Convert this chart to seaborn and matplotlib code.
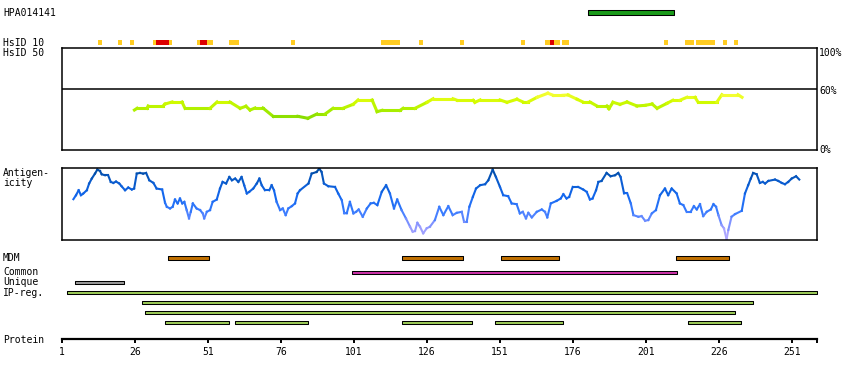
import numpy as np
import matplotlib.pyplot as plt
import seaborn as sns
from matplotlib.collections import LineCollection

sns.set_theme(style='white')
plt.rcParams['font.family'] = ['DejaVu Sans Mono']

# ---- data (residue positions / values) ----
ruler_end = 259.5
tick_pos = [1, 26, 51, 76, 101, 126, 151, 176, 201, 226, 251]

antibody_name = 'HPA014141'
antigen_span = [(181, 210.5)]

hsid10_yellow = [(13.2, 14.6), (20.3, 21.6), (24.3, 25.7), (32.2, 38.6), (47.3, 52.6),
                 (58.2, 61.6), (79.4, 80.8), (110.2, 116.8), (123.3, 124.6), (137.3, 138.7),
                 (158.2, 159.6), (166.4, 171.5), (172.2, 174.6), (207.2, 208.5), (214.4, 217.4),
                 (218.1, 224.6), (227.4, 228.7), (231.1, 232.5)]
hsid10_red = [(33.2, 37.5), (48.3, 50.7), (168.1, 169.5)]

hs_pos = [25.8, 26.7, 30.1, 30.5, 35.6, 36.3, 38.7, 42.1, 43.1, 51.7,
          54.1, 58.5, 62.0, 64.0, 65.4, 67.1, 69.8, 73.3, 81.8, 85.2,
          88.3, 91.1, 93.8, 97.2, 100.7, 102.4, 107.2, 108.9, 110.6, 116.8,
          117.8, 121.9, 126.0, 128.1, 134.9, 136.3, 141.8, 142.4, 144.2, 151.0,
          153.4, 156.8, 158.9, 160.6, 163.7, 167.4, 169.2, 172.6, 174.3, 177.4,
          179.4, 181.8, 184.2, 187.6, 188.3, 189.7, 192.1, 194.5, 197.9, 200.7,
          203.1, 204.8, 208.2, 210.2, 212.6, 215.0, 217.8, 218.8, 225.3, 227.0,
          232.5, 233.9]
hs_val = [39.3, 41.0, 41.0, 43.3, 43.3, 45.2, 47.2, 47.2, 41.0, 41.0,
          47.2, 47.2, 41.0, 43.0, 39.3, 41.3, 41.3, 33.1, 33.1, 31.2,
          35.4, 35.4, 41.0, 41.0, 44.9, 49.2, 49.2, 37.7, 39.0, 39.0,
          41.0, 41.0, 46.9, 50.4, 50.4, 48.9, 48.9, 46.9, 49.2, 49.2,
          46.9, 49.9, 47.2, 47.2, 51.8, 55.8, 53.8, 53.8, 54.1, 49.9,
          47.2, 47.2, 43.3, 43.3, 40.6, 46.9, 44.9, 47.2, 43.3, 43.9,
          45.2, 41.0, 45.9, 48.9, 48.9, 51.8, 51.8, 47.2, 47.2, 54.4,
          54.4, 51.8]

ag_pos = [4.9, 5.8, 6.7, 7.5, 8.3, 9.5, 10.3, 11.2, 12.3, 13.1,
          14.0, 14.6, 15.7, 16.8, 17.7, 18.6, 19.5, 20.6, 21.4, 22.6,
          23.7, 24.9, 25.7, 26.6, 27.7, 28.8, 29.8, 30.9, 32.3, 33.4,
          35.3, 36.3, 36.9, 38.0, 38.9, 39.7, 40.6, 41.4, 42.2, 42.9,
          43.7, 44.5, 45.1, 45.8, 47.1, 48.3, 49.2, 49.7, 50.6, 51.7,
          52.6, 54.0, 55.1, 56.0, 57.2, 58.3, 59.2, 60.3, 61.4, 62.5,
          63.4, 64.3, 65.1, 66.5, 67.7, 68.6, 69.4, 70.5, 72.0, 72.8,
          73.6, 74.5, 75.7, 76.6, 77.6, 78.5, 79.7, 80.8, 81.7, 82.5,
          85.4, 86.5, 88.2, 89.1, 89.9, 90.7, 92.2, 94.5, 95.6, 96.8,
          97.7, 98.5, 99.6, 100.8, 101.7, 102.6, 104.0, 105.4, 106.7, 107.8,
          109.0, 110.5, 112.0, 113.3, 114.7, 115.8, 117.3, 118.8, 120.2, 121.1,
          121.9, 122.7, 123.6, 124.7, 125.9, 127.0, 128.7, 130.2, 131.6, 133.3,
          134.8, 136.2, 137.9, 138.7, 139.6, 140.5, 141.7, 142.8, 144.2, 145.9,
          147.0, 148.5, 149.6, 151.0, 152.1, 153.8, 155.0, 156.7, 157.8, 158.8,
          159.9, 160.7, 161.9, 163.6, 165.3, 166.4, 167.2, 168.4, 170.4, 171.8,
          172.7, 173.8, 174.7, 175.9, 177.8, 179.5, 180.7, 181.8, 182.7, 183.9,
          184.7, 185.8, 187.5, 188.9, 190.4, 191.5, 192.3, 193.5, 194.6, 195.8,
          196.7, 198.4, 199.5, 200.7, 201.8, 203.0, 204.4, 205.8, 207.5, 208.6,
          209.8, 211.5, 212.6, 213.8, 214.9, 216.3, 217.4, 218.4, 219.5, 220.6,
          221.8, 223.2, 224.1, 225.0, 225.8, 226.9, 227.7, 228.6, 229.2, 230.3,
          231.5, 233.8, 234.9, 236.0, 236.9, 237.7, 238.9, 240.0, 241.0, 241.8,
          242.9, 245.2, 246.3, 247.5, 248.6, 249.7, 250.9, 252.4, 253.5]
ag_val = [56.9, 62.5, 69.4, 62.5, 64.9, 69.4, 78.8, 85.7, 92.6, 98.2,
          96.3, 91.7, 90.3, 90.3, 81.0, 79.6, 81.5, 78.8, 75.0, 69.4,
          73.2, 70.4, 71.8, 92.6, 93.5, 92.6, 93.5, 83.3, 79.6, 71.8,
          70.4, 51.8, 46.3, 44.0, 46.3, 56.5, 51.0, 57.9, 51.0, 53.2,
          41.7, 30.1, 39.3, 51.0, 44.0, 41.7, 37.1, 30.1, 39.3, 41.7,
          53.2, 56.5, 71.8, 81.0, 78.8, 87.9, 83.3, 85.7, 81.0, 87.9,
          76.4, 64.9, 67.1, 71.8, 78.8, 85.7, 76.4, 69.4, 69.4, 76.4,
          69.4, 53.2, 41.7, 44.0, 34.7, 44.0, 47.2, 51.0, 64.9, 69.4,
          78.8, 92.6, 94.9, 99.6, 94.9, 78.8, 75.0, 74.0, 64.9, 55.6,
          37.1, 37.1, 53.2, 37.1, 39.3, 42.6, 32.4, 44.0, 51.0, 51.8,
          48.6, 67.1, 76.4, 64.9, 44.0, 56.5, 41.7, 30.1, 18.5, 11.5,
          12.5, 24.0, 18.5, 9.3, 16.3, 18.5, 27.8, 46.3, 34.7, 47.2,
          34.7, 37.9, 39.3, 25.4, 25.4, 46.3, 60.1, 71.8, 76.4, 77.8,
          83.3, 98.2, 87.9, 74.0, 62.5, 61.1, 51.0, 50.0, 37.1, 39.3,
          30.1, 37.9, 31.5, 39.3, 42.6, 39.3, 31.5, 51.0, 54.6, 57.9,
          63.9, 57.9, 60.1, 74.0, 74.0, 70.4, 67.1, 56.5, 57.9, 69.4,
          81.0, 82.4, 93.5, 88.9, 90.3, 93.5, 87.9, 64.9, 64.9, 51.0,
          34.7, 32.4, 33.3, 26.8, 27.8, 37.1, 41.7, 62.5, 71.8, 62.5,
          71.8, 64.9, 51.0, 48.6, 39.3, 39.3, 47.2, 42.6, 50.0, 33.3,
          39.3, 42.6, 50.0, 46.3, 34.7, 20.8, 16.3, 1.0, 13.9, 32.4,
          36.1, 40.7, 64.9, 76.4, 85.7, 93.5, 91.7, 79.6, 81.0, 78.8,
          82.4, 84.3, 82.4, 79.6, 77.8, 81.0, 85.7, 88.9, 84.3]

mdm_spans = [(37.4, 51.4), (117.5, 138.4), (151.4, 171.3), (211.4, 229.3)]
common_spans = [(100.4, 211.5)]
unique_spans = [(5.6, 22.3)]
ipreg_rows = [[(2.6, 259.5)],
              [(28.5, 237.5)],
              [(29.5, 231.4)],
              [(36.4, 58.3), (60.3, 85.3), (117.5, 141.5), (149.4, 172.5), (215.5, 233.4)]]

# ---- layout helpers (pixel based) ----
W, H = 850, 380
FS = 7
X0, X1 = 62, 816.8

fig = plt.figure(figsize=(W / 100, H / 100), dpi=100)


def px_axes(x0, y0, x1, y1):
    return fig.add_axes([x0 / W, 1 - y1 / H, (x1 - x0) / W, (y1 - y0) / H])


def label(y, s, x=3, **kw):
    fig.text(x / W, 1 - y / H, s, fontsize=FS, va='center', ha='left', color='black', **kw)


def spans(ax, items, y, h, color, edge='black'):
    ax.broken_barh([(s, e - s) for s, e in items], (y, h), facecolors=color,
                   edgecolors=edge, linewidth=0.75 if edge != 'none' else 0)


def gradient_line(ax, x, y, cmap, vmin, vmax, lw):
    x = np.asarray(x)
    y = np.asarray(y)
    pts = np.column_stack([x, y])
    segs = np.stack([pts[:-1], pts[1:]], axis=1)
    lc = LineCollection(segs, cmap=cmap, norm=plt.Normalize(vmin, vmax),
                        linewidth=lw, capstyle='projecting')
    lc.set_array((y[:-1] + y[1:]) / 2)
    ax.add_collection(lc)


# overlay for all tracks: x in residues, y in pixels
ov = px_axes(X0, 0, X1, H)
ov.set_xlim(1, ruler_end)
ov.set_ylim(H, 0)
ov.axis('off')

spans(ov, antigen_span, 10, 4.5, '#1a9a1a')
spans(ov, hsid10_yellow, 40, 4.7, '#ffcc22', edge='none')
spans(ov, hsid10_red, 40, 4.7, '#dd0000', edge='none')

spans(ov, mdm_spans, 256.2, 3.6, '#c07000')
spans(ov, common_spans, 270.8, 3.0, '#cc33aa')
spans(ov, unique_spans, 280.8, 3.0, '#999999')
for i, row in enumerate(ipreg_rows):
    spans(ov, row, 290.8 + 10 * i, 3.0, '#9dcb58')

# HsID 50 panel
hs_cmap = sns.blend_palette(['#80d800', '#a8ee00', '#d4fc00', '#ffff44'], as_cmap=True)
ax_hs = px_axes(X0, 48.3, X1, 150)
ax_hs.set_xlim(1, ruler_end)
ax_hs.set_ylim(0, 100)
ax_hs.set_xticks([])
ax_hs.set_yticks([])
ax_hs.axhline(60, color='black', lw=1.1)
gradient_line(ax_hs, hs_pos, hs_val, hs_cmap, 30, 57, 2.2)

# Antigenicity panel
ag_cmap = sns.blend_palette(['#c0b0ff', '#8c96ff', '#3a7cff', '#1468f0', '#0a5cd0', '#004a9e'],
                            as_cmap=True)
ax_ag = px_axes(X0, 168.3, X1, 240)
ax_ag.set_xlim(1, ruler_end)
ax_ag.set_ylim(0, 100)
ax_ag.set_xticks([])
ax_ag.set_yticks([])
gradient_line(ax_ag, ag_pos, ag_val, ag_cmap, 0, 100, 1.5)

for ax in (ax_hs, ax_ag):
    for sp in ax.spines.values():
        sp.set_color('black')
        sp.set_linewidth(1.1)
    ax.patch.set_alpha(0)

# protein ruler
ax_r = px_axes(X0, 330, X1, 339.3)
ax_r.set_xlim(1, ruler_end)
ax_r.patch.set_alpha(0)
for name, sp in ax_r.spines.items():
    sp.set_visible(name == 'bottom')
ax_r.spines['bottom'].set_color('black')
ax_r.spines['bottom'].set_linewidth(1.6)
ax_r.set_yticks([])
ax_r.set_xticks(tick_pos + [ruler_end])
ax_r.set_xticklabels([str(t) for t in tick_pos] + [''])
ax_r.tick_params(axis='x', direction='out', length=3.2, width=1.4, color='black',
                 pad=2, labelsize=FS, labelcolor='black', bottom=True)

# text labels
label(13, antibody_name)
label(42.5, 'HsID 10')
label(52.5, 'HsID 50')
fig.text(3 / W, 1 - 167.5 / H, 'Antigen-\nicity', fontsize=FS, va='top', ha='left',
         linespacing=1.05, color='black')
label(257.7, 'MDM')
label(272.3, 'Common')
label(282.3, 'Unique')
label(292.7, 'IP-reg.')
label(339.7, 'Protein')
label(53, '100%', x=819)
label(91, '60%', x=819)
label(150, '0%', x=819)

fig.savefig('out.png', dpi=100)
